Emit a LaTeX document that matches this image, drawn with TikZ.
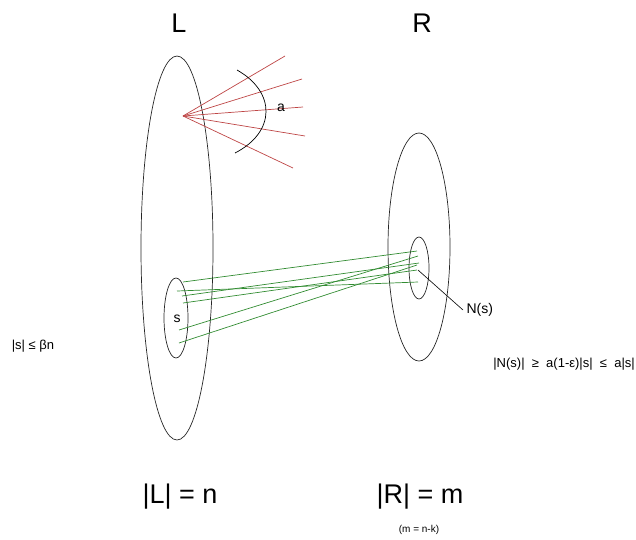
\documentclass[tikz,border=0pt]{standalone}
\usepackage{fontspec}
\setmainfont{Liberation Sans}
\usepackage{tikz}
\usetikzlibrary{shapes.geometric, positioning}
\definecolor{rayred}{RGB}{190,70,70}
\definecolor{edgegreen}{RGB}{50,140,50}

\begin{document}
\begin{tikzpicture}[
		x=1pt, y=-1pt,
		set/.style={draw, ellipse, inner sep=0pt, line width=0.7pt, black!85},
		ray/.style={line width=0.7pt, rayred},
		edge/.style={line width=0.7pt, edgegreen},
		big/.style={font=\fontsize{27}{30}\selectfont},
		mid/.style={font=\fontsize{14}{16}\selectfont},
		small/.style={font=\fontsize{13}{15}\selectfont},
		tiny/.style={font=\fontsize{10}{12}\selectfont}
	]
		\useasboundingbox (0,0) rectangle (636,539);

		% Left side L
		\node[set, minimum width=72pt, minimum height=384pt] (L) at (177,248) {};
		\node[big] (Lname) at (179,23) {L};
		\node[set, minimum width=24pt, minimum height=80pt] (S) at (176,318) {};
		\node[mid] (sname) at (177,319) {s};

		% Right side R
		\node[set, minimum width=62pt, minimum height=228pt] (R) at (419,247) {};
		\node[big] (Rname) at (422,23) {R};
		\node[set, minimum width=20pt, minimum height=62pt] (NS) at (419,268) {};
		\node[mid, anchor=west] (nsname) at (463,310) {N(s)};
		\coordinate (nsin) at (418,270);
		\draw[line width=0.6pt] (nsin) -- (nsname.west);

		% Degree fan
		\coordinate (v) at (183,116);
		\foreach \i/\fx/\fy in {1/285/56, 2/302/79, 3/303/107, 4/305/136, 5/293/168}
		{
			\coordinate (f\i) at (\fx,\fy);
			\draw[ray] (v) -- (f\i);
		}
		\coordinate (arcA) at (237,70);
		\coordinate (arcB) at (235,153);
		\draw[line width=0.7pt] (arcA) .. controls (276,92) and (276,132) .. (arcB);
		\node[mid] (aname) at (281,108) {a};

		% Edges from s to N(s)
		\foreach \i/\sx/\sy/\nx/\ny in {1/183/282/417/251, 2/177/291/418/282,
			3/182/296/419/263, 4/183/303/417/270, 5/179/330/418/256, 6/179/343/417/265}
		{
			\coordinate (sl\i) at (\sx,\sy);
			\coordinate (nr\i) at (\nx,\ny);
			\draw[edge] (sl\i) -- (nr\i);
		}

		% Bounds
		\node[small] (sbound) at (33,346) {|s| ≤ βn};
		\node[small, anchor=east, inner sep=1pt] (nbound) at (636,364) {|N(s)| \ ≥ \ a(1-ε)|s| \ ≤ \ a|s|};

		% Sizes
		\node[big] (Lsize) at (180,497) {|L| = n};
		\node[big] (Rsize) at (420,497) {|R| = m};
		\node[tiny] (mdef) at (419,530) {(m = n-k)};
	\end{tikzpicture}
\end{document}
